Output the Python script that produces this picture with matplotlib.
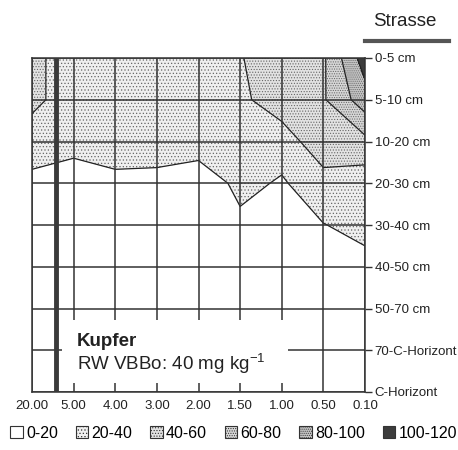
import numpy as np
import matplotlib
matplotlib.use('Agg')
import matplotlib.pyplot as plt
from matplotlib.patches import Patch, Rectangle
from matplotlib.lines import Line2D

plt.rcParams['font.family'] = ['Liberation Sans', 'DejaVu Sans']
plt.rcParams['hatch.color'] = '#666666'
plt.rcParams['hatch.linewidth'] = 0.5

# distance from the road (m) and soil depth
dist_labels = ['20.00', '5.00', '4.00', '3.00', '2.00', '1.50', '1.00', '0.50', '0.10']
depth_labels = ['0-5 cm', '5-10 cm', '10-20 cm', '20-30 cm', '30-40 cm',
                '40-50 cm', '50-70 cm', '70-C-Horizont', 'C-Horizont']

# copper content (mg/kg), one row per depth
cu_0_5 = [45, 30, 30, 32, 30, 39, 50, 57, 110]
cu_5_10 = [45, 30, 30, 32, 30, 35, 53, 58, 91]
cu_10_20 = [30, 30, 30, 30, 30, 33, 28, 55, 54.5]
cu_20_30 = [15, 5, 15, 14, 8, 25, 18, 31, 28.6]
cu_30_40 = [10, 4, 8, 8, 6, 16, 12, 19.5, 25]
cu_40_50 = [8, 4, 6, 6, 5, 10, 10, 14, 15]
cu_50_70 = [6, 4, 5, 5, 5, 8, 8, 10, 12]
cu_70_c = [5, 4, 5, 5, 5, 6, 6, 8, 10]
cu_c = [5, 4, 5, 5, 5, 5, 5, 6, 8]

levels = [0, 20, 40, 60, 80, 100, 120]
level_labels = ['0-20', '20-40', '40-60', '60-80', '80-100', '100-120']
fill_colors = ['white', '#efefef', '#e2e2e2', '#d6d6d6', '#c4c4c4', '#3c3c3c']
fill_hatches = ['', '.....', '......', '.......', '........', '']

z = np.array([cu_0_5, cu_5_10, cu_10_20, cu_20_30, cu_30_40,
              cu_40_50, cu_50_70, cu_70_c, cu_c])
x = np.arange(len(dist_labels))
y = np.arange(len(depth_labels))

fig = plt.figure(figsize=(4.58, 4.5), dpi=100)
ax = fig.add_axes([32/458, 58/450, 333/458, 334/450])

ax.contourf(x, y, z, levels=levels, colors=fill_colors, hatches=fill_hatches, zorder=1)
ax.contour(x, y, z, levels=levels[1:-1], colors='#222222', linewidths=0.9, zorder=2)

ax.set_xlim(0, 8)
ax.set_ylim(8, 0)
ax.set_xticks(x)
ax.set_xticklabels(dist_labels, fontsize=9.5, color='#222222')
ax.set_yticks(y)
ax.set_yticklabels(depth_labels, fontsize=9.5, color='#222222')
ax.yaxis.tick_right()
ax.tick_params(axis='x', length=0, pad=6)
ax.tick_params(axis='y', length=5, width=1, color='#333333', pad=2)
ax.grid(True, color='#333333', linewidth=1.1)
ax.set_axisbelow(False)
for s in ax.spines.values():
    s.set_color('#333333')
    s.set_linewidth(1.1)

# road marker line
ax.axvline(0.58, color='#3a3a3a', linewidth=3.5, zorder=3)

# annotation box
ax.add_patch(Rectangle((0.72, 6.28), 5.43, 1.5, facecolor='white', edgecolor='none', zorder=4))
ax.text(1.08, 6.8, 'Kupfer', fontsize=13.5, fontweight='bold', color='#222222',
        va='center', ha='left', zorder=5)
ax.text(1.08, 7.32, r'RW VBBo: 40 mg kg$^{\mathregular{-1}}$', fontsize=13.5, color='#222222',
        va='center', ha='left', zorder=5)

fig.text(405/458, 1 - 22/450, 'Strasse', fontsize=13.5, color='#222222', ha='center', va='center')
fig.add_artist(Line2D([365/458, 449/458], [1 - 41/450] * 2, color='#555555', linewidth=3))

handles = [Patch(facecolor=c, edgecolor='#333333', hatch=h, linewidth=0.8)
           for c, h in zip(fill_colors, fill_hatches)]
fig.legend(handles, level_labels, loc='center', bbox_to_anchor=(0.51, 1 - 433/450),
           ncol=6, frameon=False, fontsize=11.5, handlelength=0.8, handleheight=0.8,
           handletextpad=0.2, columnspacing=1.1, borderpad=0)

fig.savefig('out.png', dpi=100)
